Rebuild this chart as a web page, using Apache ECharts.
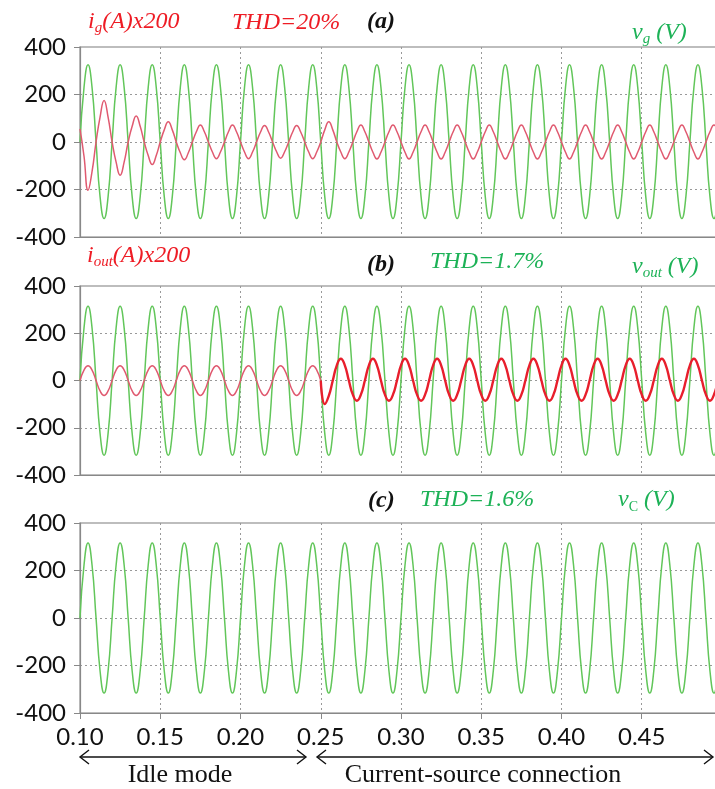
<!DOCTYPE html>
<html>
<head>
<meta charset="utf-8">
<script src="https://cdn.jsdelivr.net/npm/echarts@6/dist/echarts.min.js"></script>
<style>html,body{margin:0;padding:0;background:#fff;}#c{width:715px;height:789px;}</style>
</head>
<body>
<div id="c"></div>
<script>
// sample times (s)
var t = [
0.1,0.1025,0.105,0.1075,0.11,0.1125,0.115,0.1175,
0.12,0.1225,0.125,0.1275,0.13,0.1325,0.135,0.1375,
0.14,0.1425,0.145,0.1475,0.15,0.1525,0.155,0.1575,
0.16,0.1625,0.165,0.1675,0.17,0.1725,0.175,0.1775,
0.18,0.1825,0.185,0.1875,0.19,0.1925,0.195,0.1975,
0.2,0.2025,0.205,0.2075,0.21,0.2125,0.215,0.2175,
0.22,0.2225,0.225,0.2275,0.23,0.2325,0.235,0.2375,
0.24,0.2425,0.245,0.2475,0.25,0.2525,0.255,0.2575,
0.26,0.2625,0.265,0.2675,0.27,0.2725,0.275,0.2775,
0.28,0.2825,0.285,0.2875,0.29,0.2925,0.295,0.2975,
0.3,0.3025,0.305,0.3075,0.31,0.3125,0.315,0.3175,
0.32,0.3225,0.325,0.3275,0.33,0.3325,0.335,0.3375,
0.34,0.3425,0.345,0.3475,0.35,0.3525,0.355,0.3575,
0.36,0.3625,0.365,0.3675,0.37,0.3725,0.375,0.3775,
0.38,0.3825,0.385,0.3875,0.39,0.3925,0.395,0.3975,
0.4,0.4025,0.405,0.4075,0.41,0.4125,0.415,0.4175,
0.42,0.4225,0.425,0.4275,0.43,0.4325,0.435,0.4375,
0.44,0.4425,0.445,0.4475,0.45,0.4525,0.455,0.4575,
0.46,0.4625,0.465,0.4675,0.47,0.4725,0.475,0.4775,
0.48,0.4825,0.485,0.4875,0.49,0.4925,0.495,0.4975,
0.5];

// grid voltage v_g (V)
var vg = [
0,230,325,230,0,-230,-322,-230,
0,230,325,230,0,-230,-322,-230,
0,230,325,230,0,-230,-322,-230,
0,230,325,230,0,-230,-322,-230,
0,230,325,230,0,-230,-322,-230,
0,230,325,230,0,-230,-322,-230,
0,230,325,230,0,-230,-322,-230,
0,230,325,230,0,-230,-322,-230,
0,230,325,230,0,-230,-322,-230,
0,230,325,230,0,-230,-322,-230,
0,230,325,230,0,-230,-322,-230,
0,230,325,230,0,-230,-322,-230,
0,230,325,230,0,-230,-322,-230,
0,230,325,230,0,-230,-322,-230,
0,230,325,230,0,-230,-322,-230,
0,230,325,230,0,-230,-322,-230,
0,230,325,230,0,-230,-322,-230,
0,230,325,230,0,-230,-322,-230,
0,230,325,230,0,-230,-322,-230,
0,230,325,230,0,-230,-322,-230,
0];

// grid current i_g (A) x200
var ig = [
55,-60,-203,-125,0,105,175,105,
0,-85,-140,-85,0,66,110,66,
0,-57,-95,-57,0,51,85,51,
0,-45,-75,-45,0,43,72,43,
0,-42,-70,-42,0,43,72,43,
0,-42,-70,-42,0,42,70,42,
0,-41,-68,-41,0,42,70,42,
0,-42,-70,-42,0,51,85,51,
0,-42,-70,-42,0,43,72,43,
0,-43,-72,-43,0,43,72,43,
0,-43,-72,-43,0,43,72,43,
0,-43,-72,-43,0,43,72,43,
0,-43,-72,-43,0,43,72,43,
0,-43,-72,-43,0,43,72,43,
0,-43,-72,-43,0,43,72,43,
0,-43,-72,-43,0,43,72,43,
0,-43,-72,-43,0,43,72,43,
0,-43,-72,-43,0,43,72,43,
0,-43,-72,-43,0,43,72,43,
0,-43,-72,-43,0,43,72,43,
0];

// output voltage v_out (V)
var vout = [
0,223,314,223,0,-224,-316,-224,
0,223,314,223,0,-224,-316,-224,
0,223,314,223,0,-224,-316,-224,
0,223,314,223,0,-224,-316,-224,
0,223,314,223,0,-224,-316,-224,
0,223,314,223,0,-224,-316,-224,
0,223,314,223,0,-224,-316,-224,
0,223,314,223,0,-224,-316,-224,
0,223,314,223,0,-224,-316,-224,
0,223,314,223,0,-224,-316,-224,
0,223,314,223,0,-224,-316,-224,
0,223,314,223,0,-224,-316,-224,
0,223,314,223,0,-224,-316,-224,
0,223,314,223,0,-224,-316,-224,
0,223,314,223,0,-224,-316,-224,
0,223,314,223,0,-224,-316,-224,
0,223,314,223,0,-224,-316,-224,
0,223,314,223,0,-224,-316,-224,
0,223,314,223,0,-224,-316,-224,
0,223,314,223,0,-224,-316,-224,
0];

// output current i_out (A) x200
var iout = [
0,44,62,44,0,-44,-63,-44,
0,44,62,44,0,-44,-63,-44,
0,44,62,44,0,-44,-63,-44,
0,44,62,44,0,-44,-63,-44,
0,44,62,44,0,-44,-63,-44,
0,44,62,44,0,-44,-63,-44,
0,44,62,44,0,-44,-63,-44,
0,44,62,44,0,-100,-65,0,
64,92,64,0,-60,-86,-60,0,
64,92,64,0,-60,-86,-60,0,
64,92,64,0,-60,-86,-60,0,
64,92,64,0,-60,-86,-60,0,
64,92,64,0,-60,-86,-60,0,
64,92,64,0,-60,-86,-60,0,
64,92,64,0,-60,-86,-60,0,
64,92,64,0,-60,-86,-60,0,
64,92,64,0,-60,-86,-60,0,
64,92,64,0,-60,-86,-60,0,
64,92,64,0,-60,-86,-60,0,
64,92,64,0,-60,-86,-60,0,
64];

// capacitor voltage v_C (V)
var vc = [
0,223,316,223,0,-223,-316,-223,
0,223,316,223,0,-223,-316,-223,
0,223,316,223,0,-223,-316,-223,
0,223,316,223,0,-223,-316,-223,
0,223,316,223,0,-223,-316,-223,
0,223,316,223,0,-223,-316,-223,
0,223,316,223,0,-223,-316,-223,
0,223,316,223,0,-223,-316,-223,
0,223,316,223,0,-223,-316,-223,
0,223,316,223,0,-223,-316,-223,
0,223,316,223,0,-223,-316,-223,
0,223,316,223,0,-223,-316,-223,
0,223,316,223,0,-223,-316,-223,
0,223,316,223,0,-223,-316,-223,
0,223,316,223,0,-223,-316,-223,
0,223,316,223,0,-223,-316,-223,
0,223,316,223,0,-223,-316,-223,
0,223,316,223,0,-223,-316,-223,
0,223,316,223,0,-223,-316,-223,
0,223,316,223,0,-223,-316,-223,
0];

var connectIndex = 60; // t = 0.25 s
var yTicks = [-400, -200, 0, 200, 400];
var xTicks = [0.10, 0.15, 0.20, 0.25, 0.30, 0.35, 0.40, 0.45];

function pairs(arr, from, to) {
  var out = [];
  var a = from || 0, b = (to === undefined) ? arr.length - 1 : to;
  for (var i = a; i <= b; i++) out.push([t[i], arr[i]]);
  return out;
}

var GREEN = '#62c65a';
var PINK = '#e05a70';
var RED = '#e81e2c';
var TXT_RED = '#ee1c25';
var TXT_GREEN = '#1db257';
var SERIF = '"Liberation Serif", "DejaVu Serif", serif';

var grids = [
  {left: 80, width: 642, top: 47, height: 190},
  {left: 80, width: 642, top: 286, height: 189},
  {left: 80, width: 642, top: 523, height: 190}
];
grids.forEach(function (g) {
  g.show = true; g.borderColor = '#a8a8a8'; g.borderWidth = 1.5; g.backgroundColor = 'transparent';
  g.containLabel = false; g.outerBoundsMode = 'none';
});

function xAxis(idx, labels) {
  return {
    type: 'value', gridIndex: idx, min: 0.1, max: 0.5, interval: 0.05,
    axisLine: {show: true, onZero: false, lineStyle: {color: '#888', width: 1.2}},
    axisTick: {show: labels, inside: false, length: 6, lineStyle: {color: '#888'}},
    axisLabel: {show: labels, showMaxLabel: false, margin: 12, fontFamily: 'Lato', fontSize: 24, color: '#111',
      formatter: function (v) { return v.toFixed(2); }},
    splitLine: {show: true, showMaxLine: false, lineStyle: {type: [2, 3], color: '#999', width: 1}}
  };
}
function yAxis(idx) {
  return {
    type: 'value', gridIndex: idx, min: yTicks[0], max: yTicks[yTicks.length - 1], interval: 200,
    axisLine: {show: true, lineStyle: {color: '#888', width: 1.2}},
    axisTick: {show: true, length: 6, lineStyle: {color: '#888'}},
    axisLabel: {margin: 14, fontFamily: 'Lato', fontSize: 24, color: '#111'},
    splitLine: {show: true, showMinLine: false, showMaxLine: false, lineStyle: {type: [2, 3], color: '#999', width: 1}}
  };
}
function line(idx, data, color, width) {
  return {type: 'line', xAxisIndex: idx, yAxisIndex: idx, data: data, showSymbol: false, smooth: true,
    lineStyle: {color: color, width: width}, silent: true};
}

function txt(x, y, text, rich) {
  return {type: 'text', x: x, y: y, silent: true,
    style: {text: text, rich: rich, verticalAlign: 'middle', align: 'left'}};
}
function richSet(color) {
  return {
    m: {fontFamily: SERIF, fontStyle: 'italic', fontSize: 24, fill: color, lineHeight: 28, verticalAlign: 'middle'},
    s: {fontFamily: SERIF, fontStyle: 'italic', fontSize: 15, fill: color, lineHeight: 14, verticalAlign: 'bottom'},
    c: {fontFamily: SERIF, fontSize: 14, fill: color, lineHeight: 18, verticalAlign: 'bottom'},
    b: {fontFamily: SERIF, fontStyle: 'italic', fontWeight: 'bold', fontSize: 24, fill: '#111', lineHeight: 28, verticalAlign: 'middle'}
  };
}

function arrowHead(x, y, dir) {
  return {type: 'polyline', silent: true,
    shape: {points: [[x - dir * 9, y - 7], [x, y], [x - dir * 9, y + 7]]},
    style: {stroke: '#111', lineWidth: 1.4, fill: null}};
}
function hline(x1, x2, y) {
  return {type: 'line', silent: true, shape: {x1: x1, y1: y, x2: x2, y2: y}, style: {stroke: '#111', lineWidth: 1.4}};
}

var AY = 757;
var option = {
  animation: false,
  backgroundColor: '#fff',
  grid: grids,
  xAxis: [xAxis(0, false), xAxis(1, false), xAxis(2, true)],
  yAxis: [yAxis(0), yAxis(1), yAxis(2)],
  series: [
    line(0, pairs(vg), GREEN, 1.5),
    line(0, pairs(ig), PINK, 1.5),
    line(1, pairs(vout), GREEN, 1.5),
    line(1, pairs(iout, 0, connectIndex), PINK, 1.5),
    line(1, pairs(iout, connectIndex), RED, 2.4),
    line(2, pairs(vc), GREEN, 1.5)
  ],
  graphic: [
    txt(88, 22, '{m|i}{s|g}{m|(A)x200}', richSet(TXT_RED)),
    txt(232, 23, '{m|THD=20%}', richSet(TXT_RED)),
    txt(367, 22, '{b|(a)}', richSet('#111')),
    txt(632, 33, '{m|v}{s|g}{m| (V)}', richSet(TXT_GREEN)),

    txt(87, 256, '{m|i}{s|out}{m|(A)x200}', richSet(TXT_RED)),
    txt(367, 265, '{b|(b)}', richSet('#111')),
    txt(430, 262, '{m|THD=1.7%}', richSet(TXT_GREEN)),
    txt(632, 267, '{m|v}{s|out}{m| (V)}', richSet(TXT_GREEN)),

    txt(368, 501, '{b|(c)}', richSet('#111')),
    txt(420, 500, '{m|THD=1.6%}', richSet(TXT_GREEN)),
    txt(618, 500, '{m|v}{c|C}{m| (V)}', richSet(TXT_GREEN)),

    hline(80, 306, AY), arrowHead(80, AY, -1), arrowHead(306, AY, 1),
    hline(317, 713, AY), arrowHead(317, AY, -1), arrowHead(713, AY, 1),
    {type: 'text', x: 180, y: 775, silent: true, style: {text: 'Idle mode', fontFamily: SERIF, fontSize: 26, fill: '#111', align: 'center', verticalAlign: 'middle'}},
    {type: 'text', x: 483, y: 775, silent: true, style: {text: 'Current-source connection', fontFamily: SERIF, fontSize: 26, fill: '#111', align: 'center', verticalAlign: 'middle'}}
  ]
};

var chart = echarts.init(document.getElementById('c'), null, {renderer: 'canvas'});
chart.setOption(option);
</script>
</body>
</html>
